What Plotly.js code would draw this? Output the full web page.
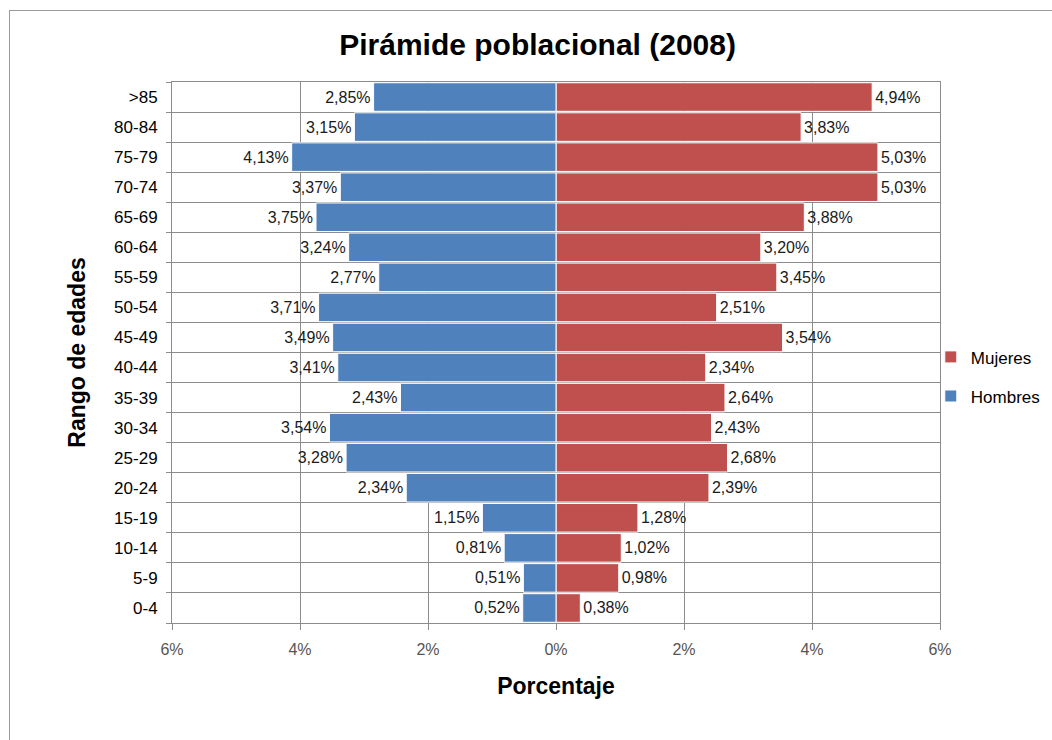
<!DOCTYPE html>
<html>
<head>
<meta charset="utf-8">
<script src="https://cdn.plot.ly/plotly-3.0.1.min.js"></script>
<style>
  html, body { margin: 0; padding: 0; background: #fff; }
  #frame { position: absolute; left: 9px; top: 10px; width: 1100px; height: 800px; border: 1px solid #9a9a9a; }
  #chart { position: absolute; left: 0; top: 0; width: 1052px; height: 740px; }
</style>
</head>
<body>
<div id="frame"></div>
<div id="chart"></div>
<script>
const ageGroups = ['0-4','5-9','10-14','15-19','20-24','25-29','30-34','35-39','40-44','45-49','50-54','55-59','60-64','65-69','70-74','75-79','80-84','>85'];
const hombres = [0.52,0.51,0.81,1.15,2.34,3.28,3.54,2.43,3.41,3.49,3.71,2.77,3.24,3.75,3.37,4.13,3.15,2.85];
const mujeres = [0.38,0.98,1.02,1.28,2.39,2.68,2.43,2.64,2.34,3.54,2.51,3.45,3.20,3.88,5.03,5.03,3.83,4.94];
const xTickVals = [-6,-4,-2,0,2,4,6];
const xTickText = ['6%','4%','2%','0%','2%','4%','6%'];

const fmt = v => v.toFixed(2).replace('.', ',') + '%';
const FONT = 'Liberation Sans, Arial, sans-serif';

const traces = [
  {
    type: 'bar', orientation: 'h', name: 'Mujeres', legendgroup: 'm',
    y: ageGroups, x: mujeres,
    text: mujeres.map(fmt), textposition: 'outside',
    textfont: {family: FONT, size: 16, color: '#1a1a1a'},
    marker: {color: '#C0504D', line: {color: '#ffffff', width: 1}},
    cliponaxis: false, hoverinfo: 'skip'
  },
  {
    type: 'bar', orientation: 'h', name: 'Hombres', legendgroup: 'h',
    y: ageGroups, x: hombres.map(v => -v),
    text: hombres.map(fmt), textposition: 'outside',
    textfont: {family: FONT, size: 16, color: '#1a1a1a'},
    marker: {color: '#4F81BD', line: {color: '#ffffff', width: 1}},
    cliponaxis: false, hoverinfo: 'skip'
  }
];

const layout = {
  width: 1052, height: 740,
  paper_bgcolor: 'rgba(0,0,0,0)', plot_bgcolor: '#ffffff',
  margin: {l: 172, r: 112, t: 82, b: 117, autoexpand: false},
  font: {family: FONT, color: '#000'},
  title: {text: '<b>Pirámide poblacional (2008)</b>', font: {family: FONT, size: 30, color: '#000'},
          x: 0.511, xref: 'container', xanchor: 'center', y: 0.94, yref: 'container', yanchor: 'middle'},
  barmode: 'relative', bargap: 0.05,
  showlegend: true,
  legend: {x: 0.988, xanchor: 'left', y: 0.455, yanchor: 'middle', traceorder: 'grouped',
           font: {family: FONT, size: 17, color: '#000'}, itemwidth: 30, tracegroupgap: 14,
           bgcolor: 'rgba(0,0,0,0)'},
  xaxis: {
    range: [-6, 6], tickvals: xTickVals, ticktext: xTickText,
    tickfont: {family: FONT, size: 16, color: '#555'},
    showgrid: true, gridcolor: '#8c8c8c', gridwidth: 1,
    zeroline: false, showline: true, linecolor: '#8c8c8c', mirror: true,
    ticks: 'outside', ticklen: 6, tickcolor: '#8c8c8c', ticklabelstandoff: 6,
    title: {text: '<b>Porcentaje</b>', font: {family: FONT, size: 23, color: '#000'}, standoff: 20},
    fixedrange: true
  },
  yaxis: {
    type: 'category', categoryorder: 'array', categoryarray: ageGroups,
    tickson: 'boundaries', ticks: 'outside', ticklen: 5, tickcolor: '#8c8c8c',
    tickfont: {family: FONT, size: 17, color: '#000'}, ticklabelstandoff: 10,
    showgrid: true, gridcolor: '#8c8c8c', gridwidth: 1,
    showline: true, linecolor: '#8c8c8c', mirror: true,
    title: {text: '<b>Rango de edades</b>', font: {family: FONT, size: 23, color: '#000'}, standoff: 22},
    fixedrange: true
  }
};

Plotly.newPlot('chart', traces, layout, {displayModeBar: false, staticPlot: true});
</script>
</body>
</html>
